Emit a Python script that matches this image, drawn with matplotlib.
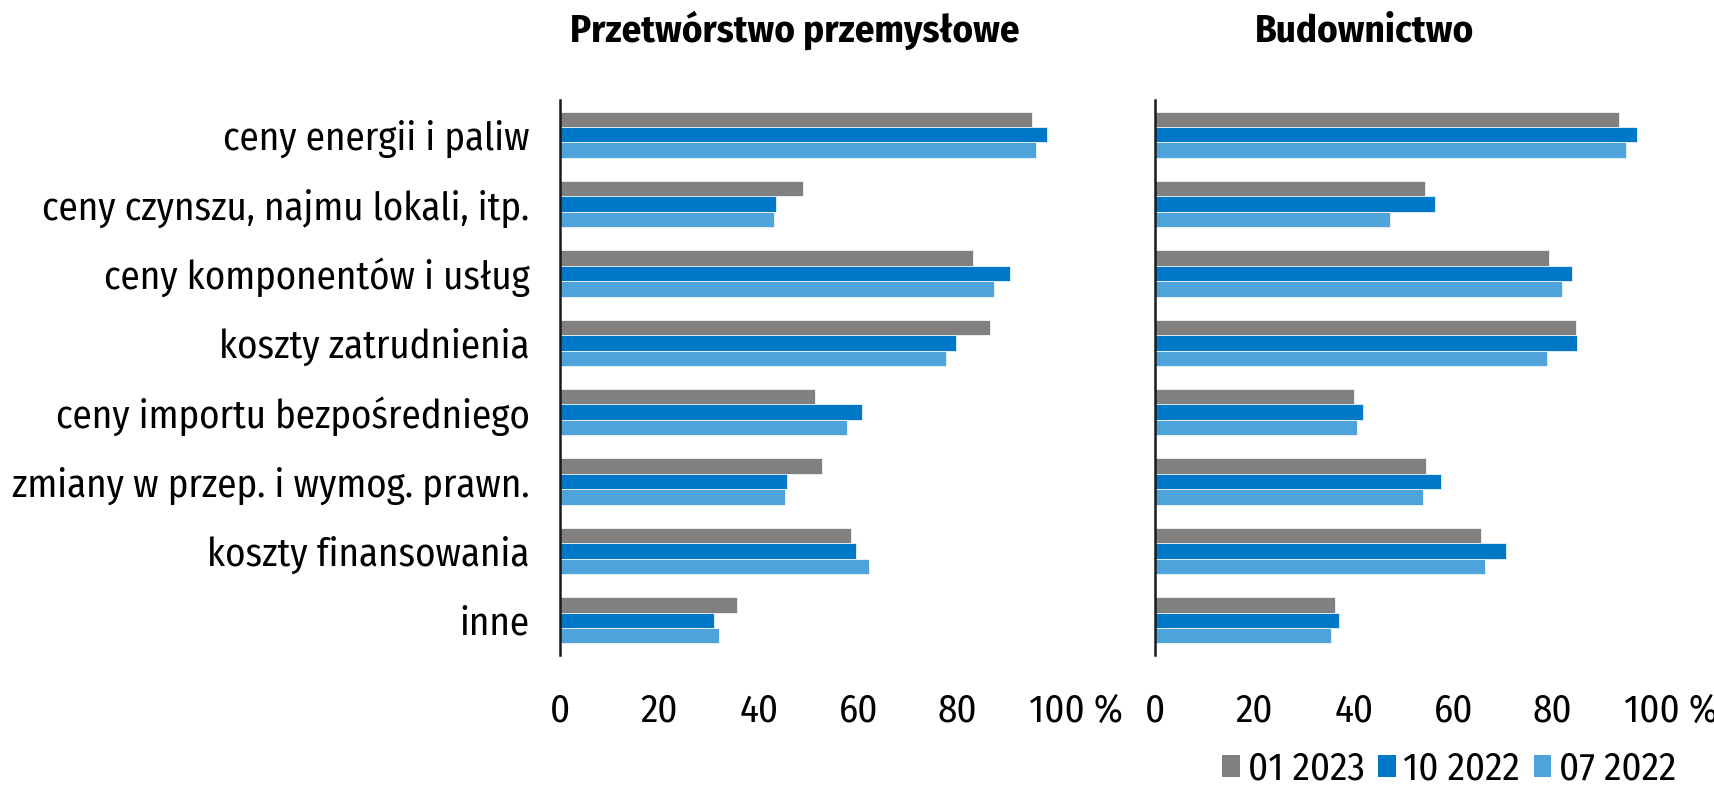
import os
import matplotlib
matplotlib.use("Agg")
import matplotlib.pyplot as plt
from matplotlib import font_manager as fm
from matplotlib.patches import Patch

# ---------------- data ----------------
categories = [
    "ceny energii i paliw",
    "ceny czynszu, najmu lokali, itp.",
    "ceny komponentów i usług",
    "koszty zatrudnienia",
    "ceny importu bezpośredniego",
    "zmiany w przep. i wymog. prawn.",
    "koszty finansowania",
    "inne",
]
series_labels = ["01 2023", "10 2022", "07 2022"]
manuf_01_2023 = [94.9, 48.8, 83.0, 86.5, 51.4, 52.7, 58.6, 35.7]
manuf_10_2022 = [97.9, 43.5, 90.6, 79.7, 60.7, 45.7, 59.5, 31.0]
manuf_07_2022 = [95.7, 43.1, 87.3, 77.7, 57.7, 45.3, 62.2, 31.9]
constr_01_2023 = [93.4, 54.4, 79.3, 84.8, 40.0, 54.5, 65.5, 36.2]
constr_10_2022 = [97.0, 56.3, 84.0, 85.0, 41.9, 57.5, 70.7, 37.0]
constr_07_2022 = [94.8, 47.3, 81.8, 78.9, 40.6, 54.0, 66.4, 35.4]
panel_titles = ["Przetwórstwo przemysłowe", "Budownictwo"]
x_ticks = [0, 20, 40, 60, 80, 100]
colors = ["#808080", "#0078C8", "#4DA3DA"]

# ---------------- fonts ----------------
def _wnum(w):
    if isinstance(w, str):
        return fm.weight_dict.get(w, 400)
    return int(w)

def _snum(s):
    if isinstance(s, str):
        return fm.stretch_dict.get(s, 500)
    return int(s)

fam_pref = ["fira sans", "roboto", "open sans", "noto sans", "liberation sans",
            "dejavu sans", "lato", "inter"]

def find_condensed(target_weight):
    best, best_score = None, None
    for f in fm.fontManager.ttflist:
        fn = os.path.basename(f.fname).lower()
        nm = f.name.lower()
        if f.style != "normal" or "italic" in fn or "oblique" in fn:
            continue
        if "cjk" in nm or "mono" in nm or "serif" in nm or "display" in fn:
            continue
        cond = ("condensed" in fn or "narrow" in fn or "cond" in nm
                or "narrow" in nm or _snum(f.stretch) < 500)
        if not cond:
            continue
        if "extra" in fn or "ultra" in fn or "semi" in fn:
            sc_stretch = 1
        else:
            sc_stretch = 0
        fam_rank = len(fam_pref)
        for i, p in enumerate(fam_pref):
            if nm.startswith(p):
                fam_rank = i
                break
        score = (abs(_wnum(f.weight) - target_weight) / 100.0, sc_stretch, fam_rank)
        if best_score is None or score < best_score:
            best, best_score = f, score
    return best

reg = find_condensed(400)
bld = find_condensed(700)
if reg is not None:
    fp_reg = fm.FontProperties(fname=reg.fname)
else:
    fp_reg = fm.FontProperties(family="Roboto")
if bld is not None and _wnum(bld.weight) >= 600:
    fp_bold = fm.FontProperties(fname=bld.fname)
else:
    fp_bold = fm.FontProperties(family="Roboto", weight="bold")

W, H = 1715, 791
fig = plt.figure(figsize=(W / 100, H / 100), dpi=100)
renderer = fig.canvas.get_renderer()

def text_width(s, fp, size):
    p = fp.copy()
    p.set_size(size)
    t = fig.text(0, 0, s, fontproperties=p)
    w = t.get_window_extent(renderer).width
    t.remove()
    return w

lbl_size = 33.0
w_long = text_width("zmiany w przep. i wymog. prawn.", fp_reg, lbl_size)
lbl_size = min(lbl_size, lbl_size * 518.0 / w_long)
title_size = 28.0
w_t = text_width("Przetwórstwo przemysłowe", fp_bold, title_size)
title_size = min(title_size, title_size * 460.0 / w_t)

fpl = fp_reg.copy(); fpl.set_size(lbl_size)
fpt = fp_bold.copy(); fpt.set_size(title_size)

# ---------------- axes ----------------
ax_bottom = (H - 655) / H
ax_h = 555 / H
axes = [
    fig.add_axes([560 / W, ax_bottom, 497 / W, ax_h]),
    fig.add_axes([1155 / W, ax_bottom, 497 / W, ax_h]),
]
panel_data = [
    [manuf_01_2023, manuf_10_2022, manuf_07_2022],
    [constr_01_2023, constr_10_2022, constr_07_2022],
]
title_x = [(795 - 560) / 497, (1365 - 1155) / 497]

bar_h = 0.222
offsets = [-bar_h, 0.0, bar_h]
ypos = list(range(len(categories)))
w100 = text_width("100", fp_reg, lbl_size)
tick_pad_pt = 27

for k, ax in enumerate(axes):
    for s in range(3):
        ax.barh([y + offsets[s] for y in ypos], panel_data[k][s], height=bar_h,
                color=colors[s], edgecolor="white", linewidth=0.5,
                label=series_labels[s])
    ax.set_xlim(0, 100)
    ax.set_ylim(len(categories) - 0.5, -0.5)
    for sp in ["top", "right", "bottom"]:
        ax.spines[sp].set_visible(False)
    ax.spines["left"].set_linewidth(1.8)
    ax.spines["left"].set_color("#1a1a1a")
    ax.set_xticks(x_ticks)
    ax.set_xticklabels([str(v) for v in x_ticks[:-1]] + [""], fontproperties=fpl)
    ax.tick_params(axis="x", length=0, pad=tick_pad_pt)
    ax.annotate("100 %", xy=(100, 0), xycoords=ax.get_xaxis_transform(),
                xytext=(-w100 / 2 * 0.72, -tick_pad_pt), textcoords="offset points",
                ha="left", va="top", fontproperties=fpl, annotation_clip=False)
    ax.set_yticks(ypos)
    if k == 0:
        ax.set_yticklabels(categories, fontproperties=fpl)
        ax.tick_params(axis="y", length=0, pad=22)
    else:
        ax.set_yticklabels([])
        ax.tick_params(axis="y", length=0)
    ax.set_title(panel_titles[k], fontproperties=fpt, x=title_x[k], pad=42)

handles = [Patch(facecolor=c, edgecolor="none") for c in colors]
fig.legend(handles, series_labels, loc="lower right",
           bbox_to_anchor=(1676 / W, 0.004), ncol=3, frameon=False, prop=fpl,
           handlelength=0.45, handleheight=0.5, handletextpad=0.2,
           columnspacing=0.35, borderaxespad=0, borderpad=0)

fig.savefig("out.png", dpi=100)
